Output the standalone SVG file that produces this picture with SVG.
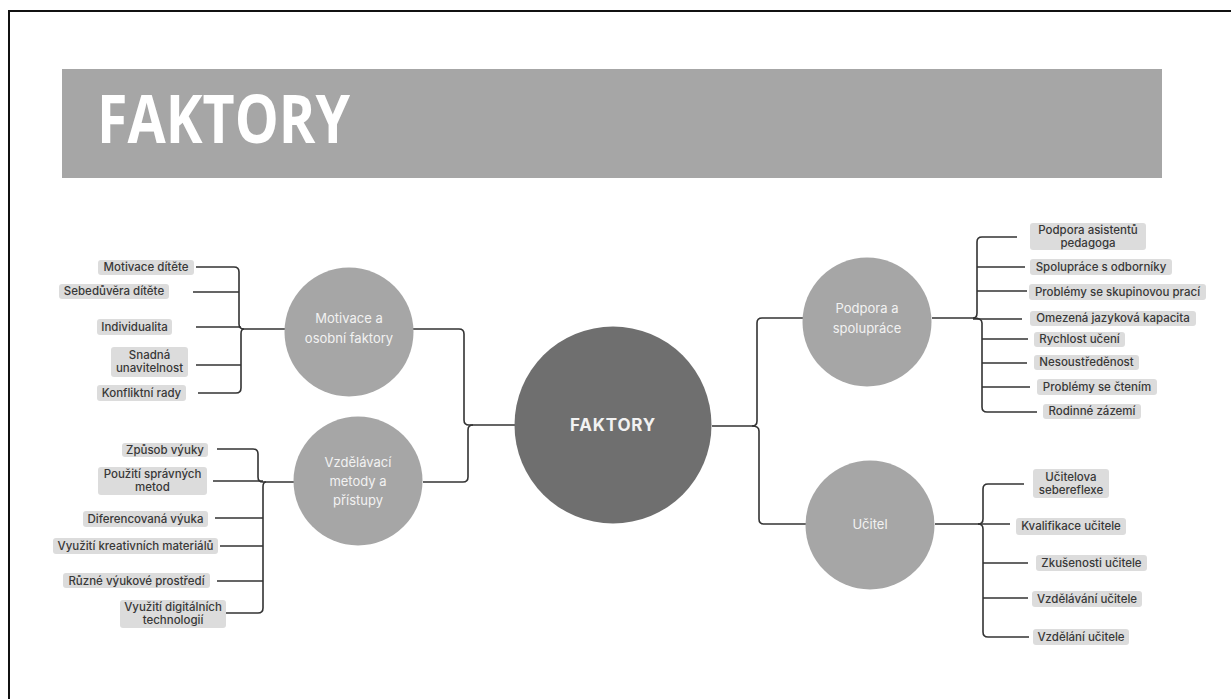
<svg xmlns="http://www.w3.org/2000/svg" width="1231" height="699" viewBox="0 0 1231 699">
<style>
.lbl rect{fill:#dcdcdc}
.lbl text{font-family:Inter,"Liberation Sans",sans-serif;font-size:11.5px;font-weight:500;fill:#383838;text-anchor:middle}
.sub circle{fill:#a6a6a6}
.sub text{font-family:Inter,"Liberation Sans",sans-serif;font-size:13px;fill:#f2f2f2;text-anchor:middle}
#connectors path{fill:none;stroke:#333;stroke-width:1.6}
</style>
<rect x="0" y="0" width="1231" height="699" fill="#fff"/>
<rect x="9" y="11" width="1240" height="710" fill="none" stroke="#111" stroke-width="2"/>
<g id="title">
<rect x="62" y="69" width="1100" height="109" fill="#a6a6a6"/>
<text x="97" y="143" font-family="Open Sans,Roboto,sans-serif" font-weight="bold" font-size="66" fill="#fff" textLength="253" lengthAdjust="spacingAndGlyphs">FAKTORY</text>
</g>
<g id="connectors">
<path d="M196 267H234Q239 267 239 272V324Q239 329 244 329H285"/>
<path d="M244 329Q241 329 241 334V388Q241 393 236 393H198"/>
<path d="M193 292H239M196 327H241M196 365H241"/>
<path d="M217 449H253Q258 449 258 454V477Q258 482 263 482H294"/>
<path d="M266 482Q263 482 263 487V608Q263 613 258 613H225"/>
<path d="M213 481H263M215 518H263M220 546H263M217 581H263"/>
<path d="M413 329H459Q464 329 464 334V420Q464 425 469 425H515"/>
<path d="M423 482H463Q468 482 468 477V430Q468 425 473 425"/>
<path d="M712 426H752Q757 426 757 421V323Q757 318 762 318H803"/>
<path d="M752 426Q759 426 759 431V519Q759 524 764 524H806"/>
<path d="M932 318H973Q977 318 977 313V242Q977 237 982 237H1017"/>
<path d="M973 318Q982 318 982 323V407Q982 412 987 412H1037"/>
<path d="M977 267H1025M977 291H1027M973 319H1022M982 339H1028M982 363H1027M982 387H1030"/>
<path d="M935 524H978Q983 524 983 519V489Q983 484 988 484H1024"/>
<path d="M978 524Q983 524 983 529V632Q983 637 988 637H1029"/>
<path d="M978 524H1010M983 563H1028M983 598H1028"/>
</g>
<g id="center">
<circle cx="613" cy="425" r="98.5" fill="#6f6f6f"/>
<text x="613" y="431" font-family="Inter,Liberation Sans,sans-serif" font-weight="bold" font-size="17" fill="#f2f2f2" text-anchor="middle" letter-spacing="0.8">FAKTORY</text>
</g>
<g id="motivace" class="sub"><circle cx="349" cy="332" r="64.5"/><text x="349" y="323">Motivace a</text><text x="349" y="343">osobní faktory</text></g>
<g id="vzdelavaci" class="sub"><circle cx="358" cy="481" r="64.5"/><text x="358" y="467" font-size="14">Vzdělávací</text><text x="358" y="486" font-size="14">metody a</text><text x="358" y="505" font-size="14">přístupy</text></g>
<g id="podpora" class="sub"><circle cx="867" cy="322" r="64.5"/><text x="867" y="313">Podpora a</text><text x="867" y="333">spolupráce</text></g>
<g id="ucitel" class="sub"><circle cx="870" cy="525" r="64.5"/><text x="870" y="529">Učitel</text></g>
<g id="n1" class="lbl"><rect x="1030" y="223" width="116" height="27" rx="3"/><text x="1088" y="234">Podpora asistentů</text><text x="1088" y="247">pedagoga</text></g>
<g id="n2" class="lbl"><rect x="1030" y="259" width="142" height="16" rx="3"/><text x="1101" y="271">Spolupráce s odborníky</text></g>
<g id="n3" class="lbl"><rect x="1029" y="284" width="177" height="16" rx="3"/><text x="1117.5" y="296">Problémy se skupinovou prací</text></g>
<g id="n4" class="lbl"><rect x="1030" y="311" width="166" height="15" rx="3"/><text x="1113" y="322">Omezená jazyková kapacita</text></g>
<g id="n5" class="lbl"><rect x="1034" y="332" width="91" height="15" rx="3"/><text x="1079.5" y="343">Rychlost učení</text></g>
<g id="n6" class="lbl"><rect x="1034" y="355" width="105" height="15" rx="3"/><text x="1086.5" y="366">Nesoustředěnost</text></g>
<g id="n7" class="lbl"><rect x="1037" y="379" width="120" height="16" rx="3"/><text x="1097" y="391">Problémy se čtením</text></g>
<g id="n8" class="lbl"><rect x="1043" y="404" width="98" height="15" rx="3"/><text x="1092" y="415">Rodinné zázemí</text></g>
<g id="n9" class="lbl"><rect x="1033" y="469" width="76" height="29" rx="3"/><text x="1071" y="481">Učitelova</text><text x="1071" y="494">sebereflexe</text></g>
<g id="n10" class="lbl"><rect x="1016" y="518" width="110" height="17" rx="3"/><text x="1071" y="530">Kvalifikace učitele</text></g>
<g id="n11" class="lbl"><rect x="1036" y="555" width="111" height="16" rx="3"/><text x="1091.5" y="567">Zkušenosti učitele</text></g>
<g id="n12" class="lbl"><rect x="1032" y="591" width="110" height="16" rx="3"/><text x="1087" y="603">Vzdělávání učitele</text></g>
<g id="n13" class="lbl"><rect x="1033" y="629" width="96" height="16" rx="3"/><text x="1081" y="641">Vzdělání učitele</text></g>
<g id="n14" class="lbl"><rect x="98" y="260" width="96" height="15" rx="3"/><text x="146" y="271">Motivace dítěte</text></g>
<g id="n15" class="lbl"><rect x="59" y="284" width="110" height="15" rx="3"/><text x="114" y="295">Sebedůvěra dítěte</text></g>
<g id="n16" class="lbl"><rect x="97" y="319" width="75" height="16" rx="3"/><text x="134.5" y="331">Individualita</text></g>
<g id="n17" class="lbl"><rect x="111" y="347" width="77" height="30" rx="3"/><text x="149.5" y="359">Snadná</text><text x="149.5" y="372">unavitelnost</text></g>
<g id="n18" class="lbl"><rect x="97" y="385" width="89" height="16" rx="3"/><text x="141.5" y="397">Konfliktní rady</text></g>
<g id="n19" class="lbl"><rect x="122" y="443" width="86" height="14" rx="3"/><text x="165" y="454">Způsob výuky</text></g>
<g id="n20" class="lbl"><rect x="98" y="467" width="109" height="28" rx="3"/><text x="152.5" y="478">Použití správných</text><text x="152.5" y="491">metod</text></g>
<g id="n21" class="lbl"><rect x="83" y="511" width="125" height="16" rx="3"/><text x="145.5" y="523">Diferencovaná výuka</text></g>
<g id="n22" class="lbl"><rect x="53" y="538" width="165" height="16" rx="3"/><text x="135.5" y="550">Využití kreativních materiálů</text></g>
<g id="n23" class="lbl"><rect x="63" y="573" width="147" height="15" rx="3"/><text x="136.5" y="585">Různé výukové prostředí</text></g>
<g id="n24" class="lbl"><rect x="120" y="600" width="106" height="28" rx="3"/><text x="173" y="611">Využití digitálních</text><text x="173" y="624">technologií</text></g>
</svg>
